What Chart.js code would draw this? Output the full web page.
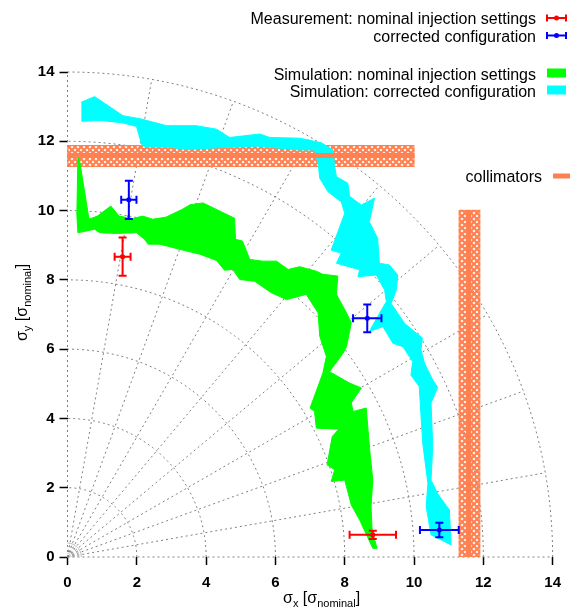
<!DOCTYPE html>
<html>
<head>
<meta charset="utf-8">
<script src="https://cdn.jsdelivr.net/npm/chart.js@4/dist/chart.umd.min.js"></script>
<style>
  html, body { margin: 0; padding: 0; background: #fff; }
  #wrap { width: 570px; height: 610px; position: relative; }
</style>
</head>
<body>
<div id="wrap"><canvas id="beamChart"></canvas></div>
<script>
const FONT = '"Liberation Sans", Arial, sans-serif';

// axes
const xTicks = [0, 2, 4, 6, 8, 10, 12, 14];
const yTicks = [0, 2, 4, 6, 8, 10, 12, 14];
const gridRadii = [2, 4, 6, 8, 10, 12, 14];
const gridAngles = [0, 10, 20, 30, 40, 50, 60, 70, 80, 90];
const originArcs = [0.1, 0.2, 0.3, 0.4];

// measurements (value, error)
const nominalX = [1.59, 8.81];
const nominalXErr = [0.23, 0.67];
const nominalY = [8.67, 0.64];
const nominalYErr = [0.55, 0.12];

const correctedX = [1.77, 8.65, 10.73];
const correctedXErr = [0.22, 0.41, 0.56];
const correctedY = [10.31, 6.89, 0.78];
const correctedYErr = [0.55, 0.40, 0.21];

// simulation bands (outline of the region)
const nominalBandX = [0.33, 0.62, 0.86, 1.25, 1.49, 1.88, 2.17, 2.46, 2.84, 3.32, 3.54, 3.91, 4.82, 4.85, 5.05, 5.26,
  5.63, 6.03, 6.37, 6.70, 7.18, 7.37, 7.80, 7.76, 8.05, 8.19, 8.05, 7.95, 7.56, 8.14, 8.48, 8.19, 8.24, 8.62,
  8.72, 8.81, 8.76, 8.79, 8.93, 8.81, 8.43, 8.19, 8.00, 7.61, 7.71, 7.49, 7.64, 7.83, 7.18, 7.13, 7.00, 7.37,
  7.47, 7.28, 7.23, 6.89, 6.32, 5.88, 5.40, 4.97, 4.77, 4.53, 4.30, 3.82, 3.24, 2.66, 2.33, 2.22, 1.99, 1.41,
  0.93, 0.78, 0.30, 0.27, 0.30];
const nominalBandY = [11.56, 9.75, 9.84, 10.13, 9.84, 9.77, 9.84, 9.75, 9.81, 10.04, 10.17, 10.22, 9.78, 9.17, 9.12, 8.59,
  8.54, 8.54, 8.30, 8.38, 8.25, 8.16, 8.11, 7.58, 7.05, 6.76, 6.07, 5.88, 5.35, 5.02, 4.88, 4.45, 4.20, 4.30,
  3.10, 2.22, 1.46, 0.78, 0.25, 0.25, 1.07, 1.50, 2.22, 2.18, 2.52, 2.66, 3.48, 3.69, 3.72, 4.20, 4.30, 5.31,
  5.79, 6.37, 7.05, 7.58, 7.43, 7.63, 7.96, 8.01, 8.30, 8.28, 8.56, 8.74, 8.88, 9.03, 9.03, 9.17, 9.36, 9.34,
  9.36, 9.46, 9.36, 9.89, 11.56];

const correctedBandX = [0.40, 0.78, 1.60, 2.14, 2.86, 3.72, 4.30, 4.68, 5.55, 5.84, 6.70, 7.32, 7.66, 7.71, 7.76, 8.09,
  8.14, 8.48, 8.86, 8.71, 8.95, 9.00, 9.29, 9.53, 9.49, 9.34, 9.73, 10.24, 10.20, 10.30, 10.54, 10.68, 10.49,
  10.54, 10.49, 10.68, 11.02, 11.07, 10.49, 10.35, 10.40, 10.25, 10.20, 10.15, 9.91, 9.96, 9.68, 9.39, 9.10,
  8.71, 8.95, 9.20, 9.15, 8.91, 8.38, 8.43, 7.76, 7.90, 7.61, 8.00, 7.90, 7.52, 7.28, 7.23, 7.13, 6.70, 5.45,
  4.30, 3.43, 2.95, 2.23, 2.14, 1.99, 1.60, 0.98, 0.40];
const correctedBandY = [13.13, 13.29, 12.74, 12.64, 12.45, 12.45, 12.35, 12.11, 12.21, 12.11, 12.09, 11.96, 11.75, 11.27, 10.98, 10.79,
  10.41, 10.16, 10.36, 9.68, 9.20, 8.48, 8.43, 8.14, 7.71, 7.32, 6.74, 6.32, 5.98, 5.60, 5.11, 4.90, 4.44,
  3.19, 2.22, 1.83, 1.36, 0.35, 0.64, 1.46, 2.12, 3.29, 4.10, 4.92, 5.25, 5.64, 6.07, 6.17, 6.65,
  6.51, 6.94, 7.37, 7.71, 8.14, 8.09, 8.29, 8.48, 8.77, 8.86, 9.92, 10.25, 10.54, 10.93, 11.37, 11.75, 11.75, 11.86,
  11.81, 11.76, 11.83, 11.84, 11.91, 12.43, 12.53, 12.60, 12.58];

// collimator jaws: [xmin, xmax, ymin, ymax], centre line
const jawHorizontal = [0, 10.01, 11.26, 11.89];
const jawVertical = [11.29, 11.91, 0, 10.02];
const jawHorizontalCentre = 11.59;
const jawVerticalCentre = 11.58;

const RED = '#ff0000', BLUE = '#0000ff', GREEN = '#00ff00', CYAN = '#00ffff', CORAL = '#ff8050';

const pts = (xs, ys) => xs.map((v, i) => ({x: v, y: ys[i]}));

function hatchPattern(ctx) {
  const c = document.createElement('canvas');
  c.width = 6; c.height = 6;
  const g = c.getContext('2d');
  g.strokeStyle = CORAL;
  g.lineWidth = 2.2;
  g.beginPath();
  g.moveTo(-1, -1); g.lineTo(7, 7);
  g.moveTo(7, -1); g.lineTo(-1, 7);
  g.stroke();
  return ctx.createPattern(c, 'repeat');
}

const polarGrid = {
  id: 'polarGrid',
  beforeDatasetsDraw(chart) {
    const {ctx, scales: {x, y}} = chart;
    ctx.save();
    ctx.strokeStyle = '#808080';
    ctx.lineWidth = 1;
    ctx.setLineDash([2, 3]);
    const arc = r => {
      ctx.beginPath();
      for (let a = 0; a <= 90; a++) {
        const t = a * Math.PI / 180;
        const px = x.getPixelForValue(r * Math.cos(t));
        const py = y.getPixelForValue(r * Math.sin(t));
        if (a === 0) ctx.moveTo(px, py); else ctx.lineTo(px, py);
      }
      ctx.stroke();
    };
    gridRadii.forEach(arc);
    const rMax = gridRadii[gridRadii.length - 1];
    gridAngles.forEach(a => {
      const t = a * Math.PI / 180;
      ctx.beginPath();
      ctx.moveTo(x.getPixelForValue(0), y.getPixelForValue(0));
      ctx.lineTo(x.getPixelForValue(rMax * Math.cos(t)), y.getPixelForValue(rMax * Math.sin(t)));
      ctx.stroke();
    });
    ctx.setLineDash([]);
    ctx.strokeStyle = '#aaaaaa';
    originArcs.forEach(arc);

    // hatched collimator jaws
    const pat = hatchPattern(ctx);
    [jawHorizontal, jawVertical].forEach(j => {
      const x0 = x.getPixelForValue(j[0]), x1 = x.getPixelForValue(j[1]);
      const y0 = y.getPixelForValue(j[3]), y1 = y.getPixelForValue(j[2]);
      ctx.fillStyle = pat;
      ctx.fillRect(x0, y0, x1 - x0, y1 - y0);
      ctx.strokeStyle = CORAL;
      ctx.lineWidth = 1;
      ctx.strokeRect(x0 + 0.5, y0 + 0.5, x1 - x0 - 1, y1 - y0 - 1);
    });
    ctx.restore();
  }
};

function errorBar(ctx, cx, cy, x0, x1, y0, y1, color) {
  const cap = 4;
  ctx.strokeStyle = color;
  ctx.lineWidth = 2;
  ctx.beginPath();
  ctx.moveTo(x0, cy); ctx.lineTo(x1, cy);
  ctx.moveTo(x0, cy - cap); ctx.lineTo(x0, cy + cap);
  ctx.moveTo(x1, cy - cap); ctx.lineTo(x1, cy + cap);
  ctx.moveTo(cx, y0); ctx.lineTo(cx, y1);
  ctx.moveTo(cx - cap, y0); ctx.lineTo(cx + cap, y0);
  ctx.moveTo(cx - cap, y1); ctx.lineTo(cx + cap, y1);
  ctx.stroke();
}

const errorBars = {
  id: 'errorBars',
  afterDatasetsDraw(chart) {
    const {ctx, scales: {x, y}} = chart;
    ctx.save();
    const series = [
      [nominalX, nominalXErr, nominalY, nominalYErr, RED],
      [correctedX, correctedXErr, correctedY, correctedYErr, BLUE]
    ];
    series.forEach(([xs, xe, ys, ye, col]) => {
      xs.forEach((v, i) => {
        errorBar(ctx, x.getPixelForValue(v), y.getPixelForValue(ys[i]),
          x.getPixelForValue(v - xe[i]), x.getPixelForValue(v + xe[i]),
          y.getPixelForValue(ys[i] + ye[i]), y.getPixelForValue(ys[i] - ye[i]), col);
      });
    });
    ctx.restore();
  }
};

function drawRich(ctx, parts, x, y) {
  let cx = x;
  parts.forEach(([t, sub]) => {
    ctx.font = (sub ? '11px ' : '16px ') + FONT;
    ctx.fillText(t, cx, y + (sub ? 4 : 0));
    cx += ctx.measureText(t).width;
  });
}

const decorations = {
  id: 'decorations',
  afterDraw(chart) {
    const {ctx} = chart;
    ctx.save();
    ctx.fillStyle = '#000';
    ctx.textBaseline = 'alphabetic';

    // axis titles
    const xTitle = [['σ', 0], ['x', 1], [' [σ', 0], ['nominal', 1], [']', 0]];
    const yTitle = [['σ', 0], ['y', 1], [' [σ', 0], ['nominal', 1], [']', 0]];
    drawRich(ctx, xTitle, 283, 603);
    ctx.save();
    ctx.translate(27, 341);
    ctx.rotate(-Math.PI / 2);
    drawRich(ctx, yTitle, 0, 0);
    ctx.restore();

    // key
    ctx.font = '16px ' + FONT;
    ctx.textAlign = 'right';
    const rows = [
      ['Measurement: nominal injection settings', 24, 'err', RED, 18],
      ['corrected configuration', 41.5, 'err', BLUE, 35.5],
      ['Simulation: nominal injection settings', 79.5, 'box', GREEN, 73],
      ['Simulation: corrected configuration', 97, 'box', CYAN, 90],
      ['collimators', 182, 'line', CORAL, 176]
    ];
    rows.forEach(([label, base, kind, col, cy]) => {
      const tx = kind === 'line' ? 542 : 536;
      ctx.fillStyle = '#000';
      ctx.fillText(label, tx, base);
      if (kind === 'err') {
        ctx.strokeStyle = col;
        ctx.lineWidth = 2;
        ctx.beginPath();
        ctx.moveTo(547, cy); ctx.lineTo(566, cy);
        ctx.moveTo(547, cy - 3.5); ctx.lineTo(547, cy + 3.5);
        ctx.moveTo(566, cy - 3.5); ctx.lineTo(566, cy + 3.5);
        ctx.stroke();
        ctx.fillStyle = col;
        ctx.beginPath(); ctx.arc(556.5, cy, 2.5, 0, Math.PI * 2); ctx.fill();
      } else if (kind === 'box') {
        ctx.fillStyle = col;
        ctx.fillRect(547, cy - 4.5, 19, 9);
      } else {
        ctx.strokeStyle = col;
        ctx.lineWidth = 5;
        ctx.beginPath();
        ctx.moveTo(553, cy); ctx.lineTo(570, cy);
        ctx.stroke();
      }
    });
    ctx.restore();
  }
};

const tickFont = {family: FONT, size: 15, weight: 'bold'};

new Chart(document.getElementById('beamChart'), {
  type: 'scatter',
  data: {
    datasets: [
      {
        label: 'Measurement: nominal injection settings',
        data: pts(nominalX, nominalY),
        backgroundColor: RED, borderColor: RED,
        pointRadius: 2.5, borderWidth: 0
      },
      {
        label: 'corrected configuration',
        data: pts(correctedX, correctedY),
        backgroundColor: BLUE, borderColor: BLUE,
        pointRadius: 2.5, borderWidth: 0
      },
      {
        type: 'line',
        label: 'collimators',
        data: [{x: jawHorizontal[0], y: jawHorizontalCentre}, {x: jawHorizontal[1], y: jawHorizontalCentre}],
        borderColor: CORAL, borderWidth: 5, borderCapStyle: 'butt',
        pointRadius: 0, fill: false
      },
      {
        type: 'line',
        label: 'collimators (x)',
        data: [{x: jawVerticalCentre, y: jawVertical[2]}, {x: jawVerticalCentre, y: jawVertical[3]}],
        borderColor: CORAL, borderWidth: 5, borderCapStyle: 'butt',
        pointRadius: 0, fill: false
      },
      {
        type: 'line',
        label: 'Simulation: nominal injection settings',
        data: pts(nominalBandX, nominalBandY),
        borderColor: GREEN, backgroundColor: GREEN, borderWidth: 1,
        pointRadius: 0, tension: 0, fill: 'shape'
      },
      {
        type: 'line',
        label: 'Simulation: corrected configuration',
        data: pts(correctedBandX, correctedBandY),
        borderColor: CYAN, backgroundColor: CYAN, borderWidth: 1,
        pointRadius: 0, tension: 0, fill: 'shape'
      }
    ]
  },
  options: {
    responsive: true,
    maintainAspectRatio: false,
    animation: false,
    events: [],
    layout: {padding: {top: 72, right: 17, left: 0, bottom: 0}},
    plugins: {
      legend: {display: false},
      tooltip: {enabled: false}
    },
    scales: {
      x: {
        type: 'linear', min: 0, max: 14,
        afterBuildTicks: s => { s.ticks = xTicks.map(v => ({value: v})); },
        afterFit: s => { s.height = 53; },
        border: {display: false},
        grid: {drawOnChartArea: false, drawTicks: true, tickLength: 8, tickWidth: 1.5, tickColor: '#000'},
        ticks: {color: '#000', font: tickFont, padding: 9, maxRotation: 0}
      },
      y: {
        type: 'linear', min: 0, max: 14,
        afterBuildTicks: s => { s.ticks = yTicks.map(v => ({value: v})); },
        afterFit: s => { s.width = 67.5; },
        border: {display: false},
        grid: {drawOnChartArea: false, drawTicks: true, tickLength: 8, tickWidth: 1.5, tickColor: '#000'},
        ticks: {color: '#000', font: tickFont, padding: 5}
      }
    }
  },
  plugins: [polarGrid, errorBars, decorations]
});
</script>
</body>
</html>
